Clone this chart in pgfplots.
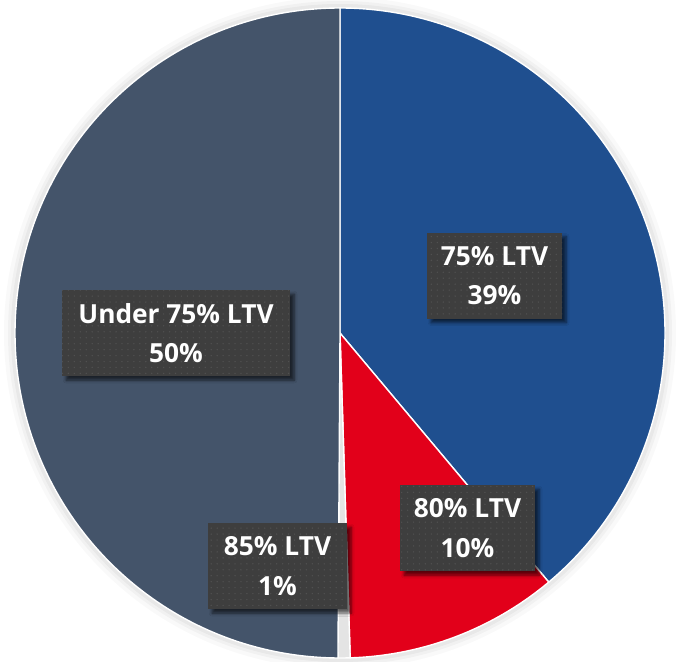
\documentclass[border=0pt]{standalone}
\usepackage{pgfplots}
\usepackage{pgfplotstable}
\pgfplotsset{compat=1.18}
\usepackage{fontspec}
\setmainfont{Open Sans}
\usetikzlibrary{shadows.blur,patterns.meta}
\definecolor{blueC}{HTML}{1F4F8F}
\definecolor{redC}{HTML}{E2001A}
\definecolor{greyC}{HTML}{E4E4E4}
\definecolor{slateC}{HTML}{44546A}
\definecolor{boxC}{HTML}{3E3E3E}
\definecolor{dotC}{HTML}{505050}
\tikzdeclarepattern{
  name=boxdots,
  type=uncolored,
  bottom left={(-.1pt,-.1pt)},
  top right={(4.4pt,4.4pt)},
  tile size={(4.3pt,4.3pt)},
  code={\fill (2.15pt,2.15pt) circle[radius=0.55pt];}
}
\pgfplotstableread{
label value
A 38.9
B 10.6
C 0.6
D 49.9
}\piedata
\begin{document}
\begin{tikzpicture}
\pgfplotstablegetelem{0}{value}\of\piedata \let\vA\pgfplotsretval
\pgfplotstablegetelem{1}{value}\of\piedata \let\vB\pgfplotsretval
\pgfplotstablegetelem{2}{value}\of\piedata \let\vC\pgfplotsretval
\pgfplotstablegetelem{3}{value}\of\piedata \let\vD\pgfplotsretval
\pgfmathsetmacro\aA{90}
\pgfmathsetmacro\aB{\aA-3.6*\vA}
\pgfmathsetmacro\aC{\aB-3.6*\vB}
\pgfmathsetmacro\aD{\aC-3.6*\vC}
\pgfmathsetmacro\aE{\aD-3.6*\vD}
\def\R{3.25in}
\begin{axis}[
  width=6.76in, height=6.62in, scale only axis,
  xmin=0, xmax=676, ymin=0, ymax=662, y dir=reverse,
  hide axis, clip=false,
]
\path (axis cs:0,0) (axis cs:676,662);
% soft glow
\begin{scope}
\clip (axis cs:0,0) rectangle (axis cs:676,662);
\fill[black, opacity=0.025] (axis cs:340,333) circle[radius=3.36in];
\fill[black, opacity=0.03] (axis cs:340,333) circle[radius=3.32in];
\fill[black, opacity=0.04] (axis cs:340,333) circle[radius=3.29in];
\end{scope}
% wedges
\filldraw[fill=blueC, draw=white, line width=1pt, line join=round] (axis cs:340,333) -- +(\aA:\R) arc[start angle=\aA, end angle=\aB, radius=\R] -- cycle;
\filldraw[fill=redC, draw=white, line width=1pt, line join=round] (axis cs:340,333) -- +(\aB:\R) arc[start angle=\aB, end angle=\aC, radius=\R] -- cycle;
\filldraw[fill=greyC, draw=white, line width=1pt, line join=round] (axis cs:340,333) -- +(\aC:\R) arc[start angle=\aC, end angle=\aD, radius=\R] -- cycle;
\filldraw[fill=slateC, draw=white, line width=1pt, line join=round] (axis cs:340,333) -- +(\aD:\R) arc[start angle=\aD, end angle=\aE, radius=\R] -- cycle;
% labels
\tikzset{lab/.style={fill=boxC, postaction={pattern=boxdots, pattern color=dotC}, text=white, font=\fontsize{19}{28.5}\selectfont\bfseries, align=center, inner sep=0pt, minimum height=0.86in, blur shadow={shadow xshift=3pt, shadow yshift=-3pt, shadow opacity=60, shadow blur steps=6}}}
\node[lab, minimum width=1.35in] at (axis cs:494.5,275.5) {75\% LTV\\39\%};
\node[lab, minimum width=2.28in] at (axis cs:176,333) {Under 75\% LTV\\50\%};
\node[lab, minimum width=1.35in] at (axis cs:467.5,528) {80\% LTV\\10\%};
\node[lab, minimum width=1.39in] at (axis cs:277.5,566) {85\% LTV\\1\%};
\end{axis}
\end{tikzpicture}
\end{document}
